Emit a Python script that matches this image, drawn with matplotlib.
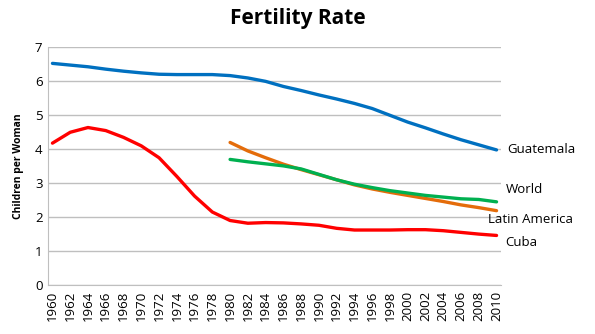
import numpy as np
import matplotlib.pyplot as plt

plt.rcParams['font.family'] = ['Open Sans', 'DejaVu Sans']

years = np.arange(1960, 2011, 2)
years_late = np.arange(1980, 2011, 2)

guatemala = [6.53, 6.48, 6.43, 6.36, 6.30, 6.25, 6.21, 6.20, 6.20, 6.20, 6.17, 6.10,
             6.00, 5.85, 5.73, 5.60, 5.48, 5.35, 5.20, 5.00, 4.80, 4.63, 4.45, 4.28,
             4.13, 3.98]
cuba = [4.18, 4.50, 4.64, 4.55, 4.35, 4.10, 3.75, 3.20, 2.62, 2.15, 1.90, 1.82,
        1.84, 1.83, 1.80, 1.76, 1.67, 1.62, 1.62, 1.62, 1.63, 1.63, 1.60, 1.55,
        1.50, 1.46]
latin_america = [4.20, 3.95, 3.75, 3.56, 3.40, 3.25, 3.10, 2.95, 2.83, 2.73, 2.64,
                 2.55, 2.46, 2.36, 2.28, 2.19]
world = [3.70, 3.63, 3.57, 3.51, 3.42, 3.26, 3.10, 2.97, 2.87, 2.78, 2.71, 2.64,
         2.59, 2.54, 2.52, 2.45]

fig = plt.figure(figsize=(5.95, 3.34), dpi=100)
ax = fig.add_axes([0.0807, 0.1467, 0.7613, 0.7113])

lw = 2.4
style = dict(lw=lw, solid_capstyle='round', solid_joinstyle='round')
ax.plot(years, guatemala, color='#0070C0', **style)
ax.plot(years, cuba, color='#FF0000', **style)
ax.plot(years_late, latin_america, color='#E46C0A', **style)
ax.plot(years_late, world, color='#00B050', **style)

ax.set_xlim(1959.5, 2010.5)
ax.set_ylim(0, 7)
ax.set_yticks(range(0, 8))
ax.set_xticks(years)
ax.set_xticklabels([str(y) for y in years], rotation=90, fontsize=9.5)
ax.tick_params(axis='y', labelsize=9.5)
ax.tick_params(length=0, pad=4)
ax.grid(axis='y', color='#BFBFBF', lw=1)
ax.set_axisbelow(True)
for s in ['top', 'right']:
    ax.spines[s].set_visible(False)
ax.spines['left'].set_color('#BFBFBF')
ax.spines['bottom'].set_color('#BFBFBF')

ax.set_ylabel('Children per Woman', fontsize=7.5, fontweight='bold', labelpad=8)

# series labels to the right of the plot
ax.text(2011.2, 3.98, 'Guatemala', fontsize=9.5, va='center', clip_on=False)
ax.text(2011.0, 2.8, 'World', fontsize=9.5, va='center', clip_on=False)
ax.text(2009.0, 1.92, 'Latin America', fontsize=9.5, va='center', clip_on=False)
ax.text(2011.0, 1.25, 'Cuba', fontsize=9.5, va='center', clip_on=False)

fig.suptitle('Fertility Rate', fontsize=15, fontweight='bold', y=0.975)

fig.savefig('out.png', dpi=100)
